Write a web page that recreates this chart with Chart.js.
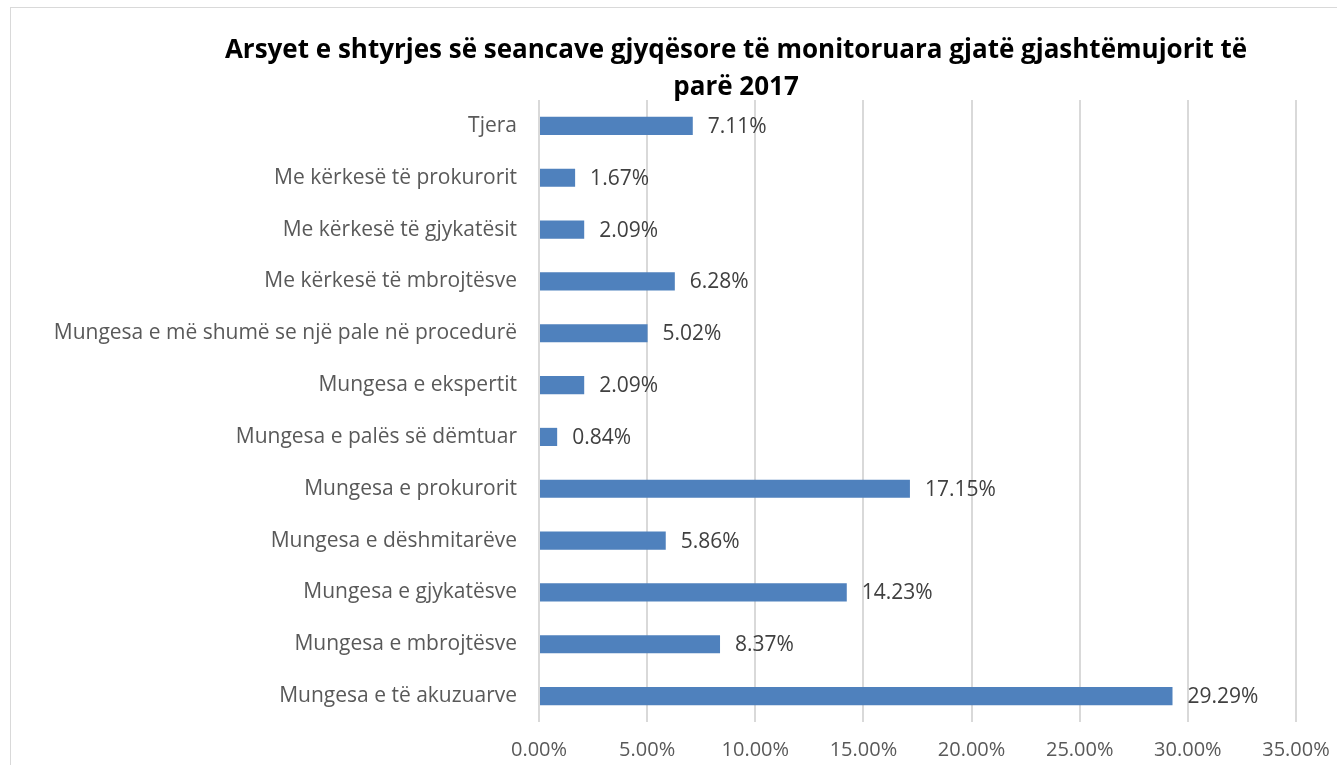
<!DOCTYPE html>
<html>
<head>
<meta charset="utf-8">
<script src="https://cdn.jsdelivr.net/npm/chart.js@4"></script>
<style>
  html, body { margin:0; padding:0; background:#fff; overflow:hidden; }
  #box { position:absolute; left:10px; top:7px; width:1450px; height:820px; border:1px solid #d9d9d9; background:#fff; }
  #chart { display:block; }
</style>
</head>
<body>
<div id="box"><canvas id="chart" width="1450" height="820"></canvas></div>
<script>
// --- Data ---
const titleLines = ['Arsyet e shtyrjes së seancave gjyqësore të monitoruara gjatë gjashtëmujorit të', 'parë 2017'];
const categories = [
  'Tjera',
  'Me kërkesë të prokurorit',
  'Me kërkesë të gjykatësit',
  'Me kërkesë të mbrojtësve',
  'Mungesa e më shumë se një pale në procedurë',
  'Mungesa e ekspertit',
  'Mungesa e palës së dëmtuar',
  'Mungesa e prokurorit',
  'Mungesa e dëshmitarëve',
  'Mungesa e gjykatësve',
  'Mungesa e mbrojtësve',
  'Mungesa e të akuzuarve'
];
const percents = [7.11, 1.67, 2.09, 6.28, 5.02, 2.09, 0.84, 17.15, 5.86, 14.23, 8.37, 29.29];
const axisMax = 35;
const axisStep = 5;

const FONT = '"Open Sans", sans-serif';

// --- Title (centred on the whole chart box, not the plot) ---
const boxTitle = {
  id: 'boxTitle',
  afterDraw(chart){
    const c = chart.ctx;
    c.save();
    c.font = 'bold 26px ' + FONT;
    c.fillStyle = '#000';
    c.textAlign = 'center';
    c.textBaseline = 'middle';
    titleLines.forEach((t, i)=> c.fillText(t, chart.width / 2, 43 + i * 37));
    c.restore();
  }
};

// --- Value labels next to bars ---
const valueLabels = {
  id: 'valueLabels',
  afterDatasetsDraw(chart){
    const c = chart.ctx;
    const meta = chart.getDatasetMeta(0);
    c.save();
    c.font = '21px ' + FONT;
    c.fillStyle = '#404040';
    c.textAlign = 'left';
    c.textBaseline = 'middle';
    meta.data.forEach((bar, i)=>{
      c.fillText(percents[i].toFixed(2) + '%', bar.x + 15, bar.y + 1);
    });
    c.restore();
  }
};

new Chart(document.getElementById('chart'), {
  type: 'bar',
  data: {
    labels: categories,
    datasets: [{
      data: percents,
      backgroundColor: '#4f81bd',
      borderWidth: 0,
      barPercentage: 0.35,
      categoryPercentage: 1
    }]
  },
  options: {
    indexAxis: 'y',
    responsive: false,
    animation: false,
    layout: { padding: { left: 20, right: 165, top: 92, bottom: 56 } },
    plugins: {
      legend: { display: false },
      tooltip: { enabled: false },
      title: { display: false }
    },
    scales: {
      x: {
        min: 0, max: axisMax,
        afterFit: s => { s.height = 50; },
        ticks: {
          stepSize: axisStep,
          color: '#595959',
          font: { family: FONT, size: 20 },
          padding: 16,
          callback: v => v.toFixed(2) + '%'
        },
        grid: { color: '#d9d9d9', lineWidth: 2, drawTicks: false },
        border: { display: false }
      },
      y: {
        afterFit: s => { s.width = 508; },
        ticks: {
          color: '#595959',
          font: { family: FONT, size: 21 },
          padding: 22
        },
        grid: { display: false, drawTicks: false },
        border: { display: false }
      }
    }
  },
  plugins: [valueLabels, boxTitle]
});
</script>
</body>
</html>
